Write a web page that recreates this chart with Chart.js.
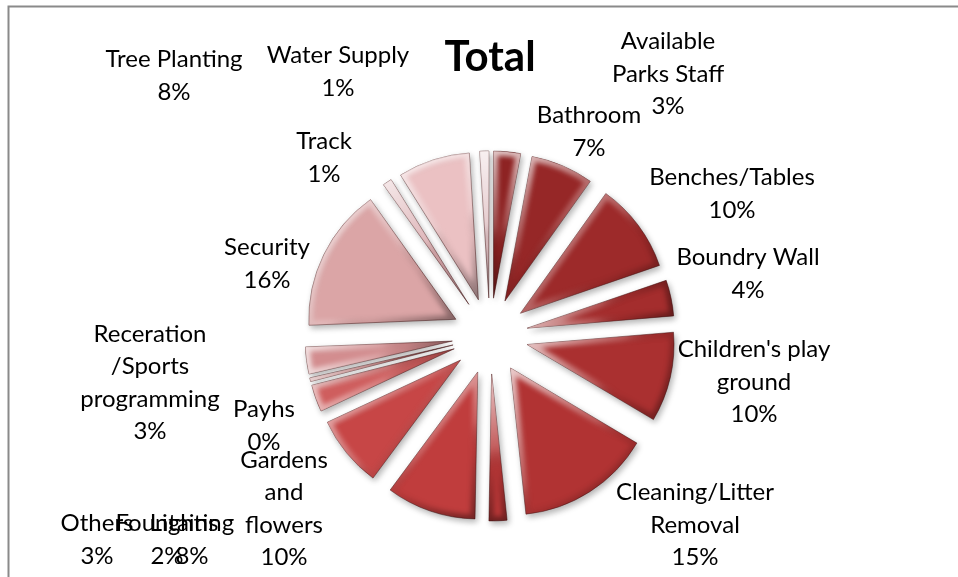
<!DOCTYPE html>
<html>
<head>
<meta charset="utf-8">
<title>Total</title>
<script src="https://cdn.jsdelivr.net/npm/chart.js@4.4.1/dist/chart.umd.min.js"></script>
<style>
    html, body { margin: 0; padding: 0; background: #ffffff; }
    #wrap { width: 958px; height: 577px; }
    canvas { display: block; }
</style>
</head>
<body>
<div id="wrap"><canvas id="totalChart" width="958" height="577"></canvas></div>
<script>
// Chart data (percent of total, clockwise from 12 o'clock)
const categories = [
    'Available\nParks Staff',
    'Bathroom',
    'Benches/Tables',
    'Boundry Wall',
    "Children's play\nground",
    'Cleaning/Litter\nRemoval',
    'Fountains',
    'Gardens\nand\nflowers',
    'Lighting',
    'Others',
    'Payhs',
    'Receration\n/Sports\nprogramming',
    'Security',
    'Track',
    'Tree Planting',
    'Water Supply'
];
const shares = [3, 7, 10, 4, 10, 15, 2, 10, 8, 3, 0.4, 3, 16, 1, 8, 1];

const sliceColors = [
    '#8e2323', '#962727', '#9d2a2a', '#a42d2d', '#aa3030', '#b13333',
    '#b83737', '#c03d3d', '#c74646', '#cf5e5e', '#c77474', '#d38d8f',
    '#dba5a6', '#dcaaae', '#ebc1c3', '#e6c6c9'
];

// where Excel put each data label, relative to the pie centre (px)
const labelOffsets = [
    [178, -262], [99, -204], [242, -142], [258, -62], [264, 46], [205, 189],
    [-323, 204], [-206, 173], [-298, 204], [-393, 204], [-226, 90], [-340, 47],
    [-223, -72], [-166, -178], [-316, -260], [-152, -264]
];

const EXPLODE = 38;
const PIE_RADIUS = 147;
const LABEL_FONT = '24px Lato';
const LABEL_LINE = 32.5;

// pull every slice out along its middle angle (Excel style explosion)
const explodePlugin = {
    id: 'explode',
    afterDatasetUpdate(chart, args) {
        args.meta.data.forEach(function(arc) {
            const mid = (arc.startAngle + arc.endAngle) / 2;
            arc.x += Math.cos(mid) * EXPLODE;
            arc.y += Math.sin(mid) * EXPLODE;
        });
    }
};

// soft shadow under the slices and a bevel glow along their edges
const bevelPlugin = {
    id: 'bevel',
    beforeDatasetsDraw(chart) {
        const ctx = chart.ctx;
        ctx.save();
        ctx.shadowColor = 'rgba(0,0,0,0.3)';
        ctx.shadowBlur = 6;
        ctx.shadowOffsetX = 2;
        ctx.shadowOffsetY = 3;
    },
    afterDatasetsDraw(chart) {
        const ctx = chart.ctx;
        ctx.restore();
        chart.getDatasetMeta(0).data.forEach(function(arc) {
            const a0 = arc.startAngle, a1 = arc.endAngle;
            if (a1 - a0 <= 0.001) return;
            const r = arc.outerRadius;
            let minX = arc.x, maxX = arc.x, minY = arc.y, maxY = arc.y;
            for (let k = 0; k <= 24; k++) {
                const a = a0 + (a1 - a0) * k / 24;
                const px = arc.x + Math.cos(a) * r, py = arc.y + Math.sin(a) * r;
                minX = Math.min(minX, px); maxX = Math.max(maxX, px);
                minY = Math.min(minY, py); maxY = Math.max(maxY, py);
            }
            ctx.save();
            ctx.beginPath();
            ctx.moveTo(arc.x, arc.y);
            ctx.arc(arc.x, arc.y, r, a0, a1);
            ctx.closePath();
            ctx.clip();
            const g = ctx.createLinearGradient(minX, minY, maxX, maxY);
            g.addColorStop(0, 'rgba(255,255,255,0.75)');
            g.addColorStop(0.5, 'rgba(255,255,255,0.2)');
            g.addColorStop(0.65, 'rgba(0,0,0,0.05)');
            g.addColorStop(1, 'rgba(0,0,0,0.4)');
            ctx.strokeStyle = g;
            ctx.lineJoin = 'round';
            ctx.filter = 'blur(2.5px)';
            ctx.lineWidth = 9;
            ctx.stroke();
            ctx.filter = 'none';
            ctx.restore();
        });
    }
};

// category name + percentage next to each slice, and the frame
const labelPlugin = {
    id: 'sliceLabels',
    beforeDraw(chart) {
        const ctx = chart.ctx;
        ctx.save();
        ctx.strokeStyle = '#8a8a8a';
        ctx.lineWidth = 2;
        ctx.beginPath();
        ctx.moveTo(8.5, chart.height);
        ctx.lineTo(8.5, 6.5);
        ctx.lineTo(chart.width, 6.5);
        ctx.stroke();
        ctx.restore();
    },
    afterDraw(chart) {
        const ctx = chart.ctx;
        const area = chart.chartArea;
        const cx = (area.left + area.right) / 2;
        const cy = (area.top + area.bottom) / 2;
        const values = chart.data.datasets[0].data;
        const total = values.reduce(function(s, v) { return s + v; }, 0);
        ctx.save();
        ctx.font = LABEL_FONT;
        ctx.fillStyle = '#000000';
        ctx.textAlign = 'center';
        ctx.textBaseline = 'middle';
        chart.data.labels.forEach(function(label, i) {
            const lines = label.split('\n');
            lines.push(Math.round(values[i] / total * 100) + '%');
            const x = cx + labelOffsets[i][0];
            const y = cy + labelOffsets[i][1];
            lines.forEach(function(line, j) {
                ctx.fillText(line, x, y + (j - (lines.length - 1) / 2) * LABEL_LINE);
            });
        });
        ctx.restore();
    }
};

const totalChart = new Chart(document.getElementById('totalChart'), {
    type: 'pie',
    data: {
        labels: categories,
        datasets: [{
            data: shares,
            backgroundColor: sliceColors,
            borderColor: 'rgba(70,20,20,0.5)',
            borderWidth: 1
        }]
    },
    options: {
        responsive: false,
        animation: false,
        events: [],
        radius: PIE_RADIUS,
        layout: {
            padding: { left: 300, right: 278, top: 10, bottom: 55 }
        },
        plugins: {
            legend: { display: false },
            tooltip: { enabled: false },
            title: {
                display: true,
                text: 'Total',
                color: '#000000',
                font: { family: 'Lato', size: 42, weight: 'bold', lineHeight: 1.2 },
                padding: { top: 22, bottom: 67.6 }
            }
        }
    },
    plugins: [explodePlugin, bevelPlugin, labelPlugin]
});
</script>
</body>
</html>
